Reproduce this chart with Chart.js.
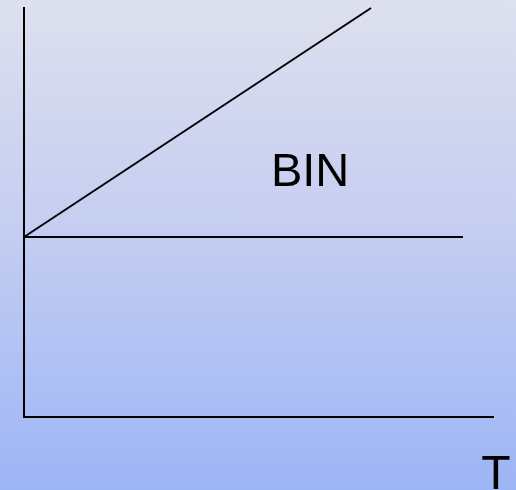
<!DOCTYPE html>
<html>
<head>
<meta charset="utf-8">
<script src="https://cdn.jsdelivr.net/npm/chart.js@4"></script>
<style>
  html, body { margin: 0; padding: 0; }
  body {
    width: 516px; height: 490px; overflow: hidden;
    background: linear-gradient(to bottom, #dde0ee 0%, #c6cef1 45%, #9db5f6 100%);
  }
  canvas { display: block; }
</style>
</head>
<body>
<canvas id="myChart" width="516" height="490"></canvas>
<script>
const ctx = document.getElementById('myChart').getContext('2d');

// Diagram data (x and y in 0..100 axis units)
const baseLevel = 44;
const flatX = [0, 93.6];
const flatY = [baseLevel, baseLevel];
const slopeX = [0, 74];
const slopeY = [baseLevel, 100];

// Text labels: [text, x, y]
const labelText = ['BIN', 'T'];
const labelX = [61, 100.6];
const labelY = [56.5, -17.6];
const labelSize = [47, 48];

const toPoints = (xs, ys) => xs.map((x, i) => ({ x: x, y: ys[i] }));

const textLabels = {
  id: 'textLabels',
  afterDraw(chart) {
    const c = chart.ctx;
    const xs = chart.scales.x, ys = chart.scales.y;
    c.save();
    c.fillStyle = '#000';
    c.textAlign = 'center';
    c.textBaseline = 'alphabetic';
    labelText.forEach((t, i) => {
      c.font = labelSize[i] + 'px "Liberation Sans", Arial, sans-serif';
      c.fillText(t, xs.getPixelForValue(labelX[i]), ys.getPixelForValue(labelY[i]));
    });
    c.restore();
  }
};

new Chart(ctx, {
  type: 'scatter',
  data: {
    datasets: [{
      data: toPoints(flatX, flatY),
      showLine: true,
      borderColor: '#000',
      borderWidth: 2,
      pointRadius: 0,
      clip: false
    }, {
      data: toPoints(slopeX, slopeY),
      showLine: true,
      borderColor: '#000',
      borderWidth: 2,
      pointRadius: 0,
      clip: false
    }]
  },
  options: {
    responsive: false,
    animation: false,
    events: [],
    layout: {
      padding: { left: 24, right: 23, top: 8, bottom: 73 }
    },
    plugins: {
      legend: { display: false },
      tooltip: { enabled: false }
    },
    scales: {
      x: {
        type: 'linear',
        min: 0,
        max: 100,
        ticks: { display: false },
        grid: { display: false, drawTicks: false },
        border: { display: true, color: '#000', width: 2 }
      },
      y: {
        type: 'linear',
        min: 0,
        max: 100,
        ticks: { display: false },
        grid: { display: false, drawTicks: false },
        border: { display: true, color: '#000', width: 2 }
      }
    }
  },
  plugins: [textLabels]
});
</script>
</body>
</html>
